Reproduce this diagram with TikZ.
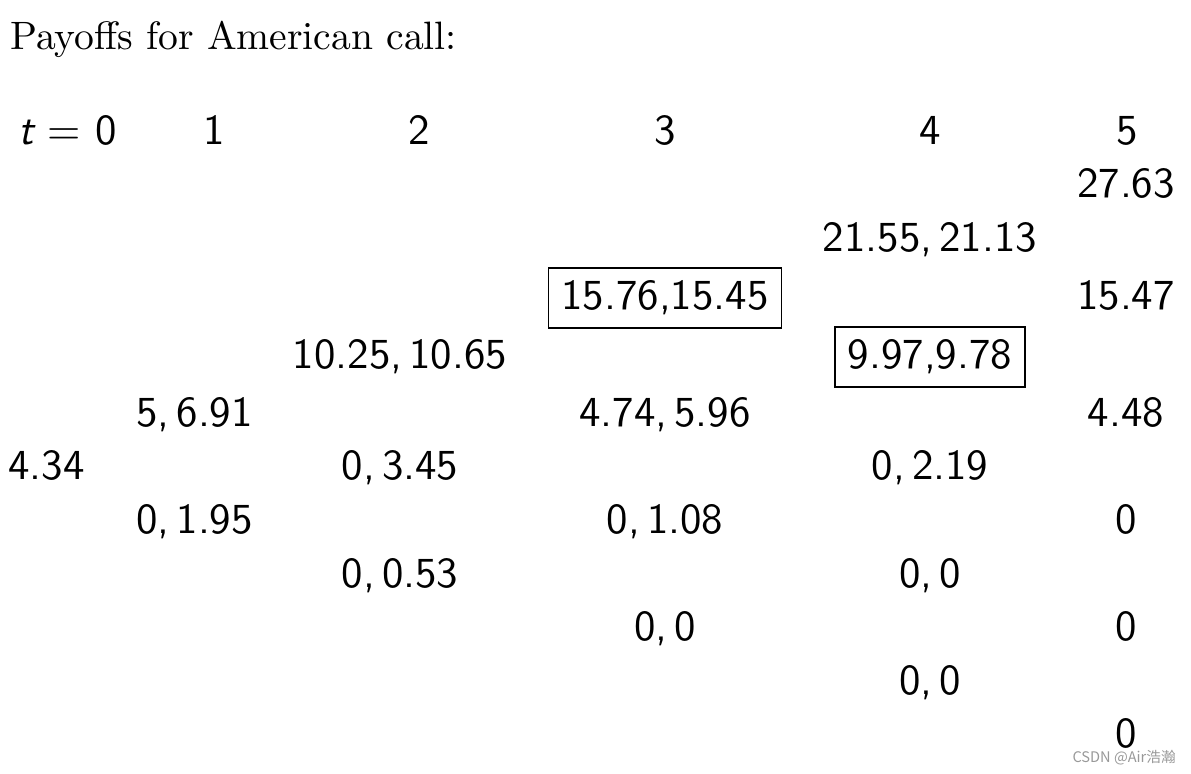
\documentclass[tikz,border=0pt]{standalone}
\usepackage{fontspec}
\newfontfamily\cjk{Noto Sans CJK SC}
\newfontfamily\numfont{lmsans10-regular.otf}[ItalicFont=lmsans10-oblique.otf]
\newfontfamily\ttlfont{lmroman10-regular.otf}
\begin{document}
\begin{tikzpicture}[x=0.5pt,y=-0.5pt,
  num/.style={anchor=base,inner sep=0pt,font=\numfont\fontsize{21.4pt}{24pt}\selectfont},
  numl/.style={num,anchor=base west},
  boxed/.style={num,draw,line width=0.65pt,inner xsep=6.5pt,inner ysep=6pt,text height=15pt,text depth=3pt},
  title/.style={anchor=base west,inner sep=0pt,font=\ttlfont\fontsize{19.8pt}{22pt}\selectfont},
  wmark/.style={anchor=base east,inner sep=0pt,text=black!40,font=\cjk\fontsize{7.3pt}{8pt}\selectfont}]
\useasboundingbox (0,0) rectangle (1191,774);
\node[title] (title) at (10,50) {Payoffs for American call:};
% header
\node[numl] (t0) at (18,145) {{\itshape t}\hspace{0.33em}=\hspace{0.33em}0};
\node[num] (t1) at (214,145) {1};
\node[num] (t2) at (419,145) {2};
\node[num] (t3) at (665,145) {3};
\node[num] (t4) at (930,145) {4};
\node[num] (t5) at (1127,145) {5};
% t=5
\node[num] (n50) at (1126,198) {27.63};
\node[num] (n51) at (1126,310) {15.47};
\node[num] (n52) at (1126,427) {4.48};
\node[num] (n53) at (1126,534) {0};
\node[num] (n54) at (1126,641) {0};
\node[num] (n55) at (1126,748) {0};
% t=4
\node[num] (n40) at (930,252) {21.55,\,21.13};
\node[boxed] (n41) at (930,369) {9.97,9.78};
\node[num] (n42) at (930,480) {0,\,2.19};
\node[num] (n43) at (930,588) {0,\,0};
\node[num] (n44) at (930,695) {0,\,0};
% t=3
\node[boxed] (n30) at (665,310) {15.76,15.45};
\node[num] (n31) at (665,427) {4.74,\,5.96};
\node[num] (n32) at (665,534) {0,\,1.08};
\node[num] (n33) at (665,641) {0,\,0};
% t=2
\node[num] (n20) at (400,369) {10.25,\,10.65};
\node[num] (n21) at (400,480) {0,\,3.45};
\node[num] (n22) at (400,588) {0,\,0.53};
% t=1
\node[num] (n10) at (194.5,427) {5,\,6.91};
\node[num] (n11) at (194.5,534) {0,\,1.95};
% t=0
\node[numl] (n00) at (8,480) {4.34};
\node[wmark] (wm) at (1176,763) {CSDN @Air浩瀚};
\end{tikzpicture}
\end{document}
